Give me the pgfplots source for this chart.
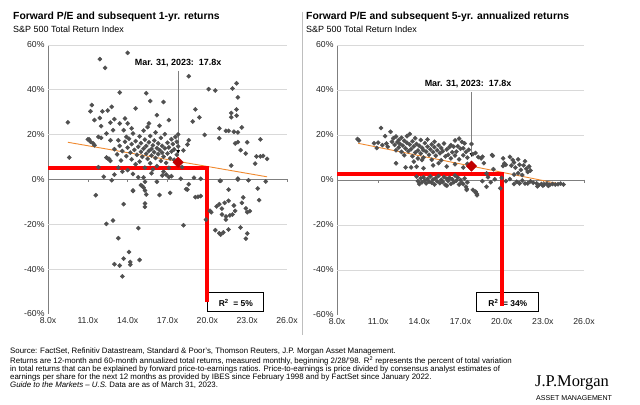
\documentclass[border=0pt]{standalone}
\usepackage{fontspec}
\setmainfont{Liberation Sans}
\newfontfamily\serifjp{Liberation Serif}
\usepackage{pgfplots}
\pgfplotsset{compat=1.18}
\usetikzlibrary{arrows.meta}
\definecolor{ptgray}{HTML}{505050}
\definecolor{gridgray}{HTML}{D9D9D9}
\definecolor{axgray}{HTML}{7F7F7F}
\definecolor{trend}{HTML}{F0892F}
\definecolor{curred}{HTML}{C00000}
\definecolor{rline}{HTML}{FF0000}
\pgfplotsset{jpm/.style={
  scale only axis, xmin=8, xmax=26, ymin=-60, ymax=60,
  axis y line=left, axis x line=bottom,
  x axis line style={draw=none},
  y axis line style={axgray, line width=0.8pt, -},
  xtick={8,11,...,26}, xticklabels={8.0x,11.0x,14.0x,17.0x,20.0x,23.0x,26.0x},
  ytick={-60,-40,...,60}, yticklabels={-60\%,-40\%,-20\%,0\%,20\%,40\%,60\%},
  major tick length=0pt,
  tick label style={font=\fontsize{8.7}{10}\selectfont, text=black!85},
  /pgf/number format/assume math mode=true,
  clip=false,
  pts/.style={only marks, mark=square*, mark size=1.5pt, mark options={rotate=45, fill=ptgray, draw=ptgray}},
}}
\newcommand{\gridzero}{%
  \draw[gridgray, line width=0.8pt] (axis cs:8,20) -- (axis cs:26,20);
  \draw[gridgray, line width=0.8pt] (axis cs:8,40) -- (axis cs:26,40);
  \draw[gridgray, line width=0.8pt] (axis cs:8,60) -- (axis cs:26,60);
  \draw[gridgray, line width=0.8pt] (axis cs:8,-20) -- (axis cs:26,-20);
  \draw[gridgray, line width=0.8pt] (axis cs:8,-40) -- (axis cs:26,-40);
  \draw[axgray, line width=0.8pt] (axis cs:8,0) -- (axis cs:26,0);
  \draw[axgray, line width=0.6pt] (axis cs:11,0) -- ++(0pt,-3pt);
  \draw[axgray, line width=0.6pt] (axis cs:14,0) -- ++(0pt,-3pt);
  \draw[axgray, line width=0.6pt] (axis cs:17,0) -- ++(0pt,-3pt);
  \draw[axgray, line width=0.6pt] (axis cs:20,0) -- ++(0pt,-3pt);
  \draw[axgray, line width=0.6pt] (axis cs:23,0) -- ++(0pt,-3pt);
  \draw[axgray, line width=0.6pt] (axis cs:26,0) -- ++(0pt,-3pt);
}
\begin{document}
\begin{tikzpicture}
\path[use as bounding box, fill=white] (0bp,0bp) rectangle (640bp,405bp);
% titles
\node[anchor=base west, inner sep=0, font=\bfseries\fontsize{10.4}{12}\selectfont] at (13bp,385bp) {Forward P/E and subsequent 1-yr. returns};
\node[anchor=base west, inner sep=0, font=\fontsize{9}{11}\selectfont] at (13bp,372bp) {S\&P 500 Total Return Index};
\node[anchor=base west, inner sep=0, font=\bfseries\fontsize{10.4}{12}\selectfont] at (306bp,385bp) {Forward P/E and subsequent 5-yr. annualized returns};
\node[anchor=base west, inner sep=0, font=\fontsize{9}{11}\selectfont] at (306bp,372bp) {S\&P 500 Total Return Index};
\draw[gridgray!70!gray, line width=0.8pt] (302bp,393bp) -- (302bp,70bp);

% ---------------- left
\begin{axis}[jpm, at={(48bp,91bp)}, anchor=south west, width=239bp, height=269bp]
\gridzero
\addplot[pts] coordinates {
(9.5,25.5) (9.6,9.8) (11.9,53.7) (12.3,49.8) (14.0,56.5) (13.4,38.8)
(11.2,30.4) (11.3,33.2) (11.5,26.5) (11.9,27.4) (12.1,30.4) (12.5,30.8) (12.8,32.4) (13.0,26.9) (12.7,25.4) (12.0,23.8)
(11.1,17.9) (11.4,16.1) (11.5,15.3) (11.8,19.0) (12.0,18.6) (12.4,20.5) (12.7,17.5) (12.9,22.0) (13.4,25.0) (13.8,27.2) (13.7,22.0) (14.3,22.8) (14.6,31.7) (14.0,25.0) (13.3,17.5) (13.9,19.0)
(15.4,38.5) (15.7,35.0) (16.7,34.6) (16.2,28.7) (17.1,26.5) (15.6,25.0)
(18.6,46.1) (20.1,40.3) (20.6,39.7) (21.9,40.6) (22.2,42.9) (22.3,36.6) (19.1,31.3) (19.4,27.7) (18.9,25.9) (21.8,29.7) (22.2,31.2) (21.8,27.8) (22.2,28.5) (22.6,23.2) (20.9,22.8) (21.4,21.7) (21.6,21.7) (22.0,21.3) (22.3,21.0) (20.9,18.4) (19.8,19.9) (18.6,17.5) (22.1,16.1) (22.3,16.7) (23.0,16.6) (22.5,13.1) (22.9,11.6) (24.0,17.9) (23.6,7.1) (23.7,10.3) (24.0,10.3) (24.2,10.5) (24.5,9.2) (21.8,6.2) (24.4,-0.9) (22.3,0.0) (21.0,-0.6)
(13.0,13.5) (13.2,11.2) (13.4,15.0) (13.5,8.5) (13.6,12.7) (13.8,16.8) (13.9,10.4) (14.0,14.2) (14.1,18.2) (14.2,12.0) (14.3,9.0) (14.3,15.8) (14.4,20.5) (14.5,13.2) (14.6,6.8) (14.6,17.1) (14.7,11.0) (14.8,14.6) (14.9,19.2) (14.9,8.0) (15.0,12.4) (15.0,16.2) (15.1,10.1) (15.2,13.8) (15.2,21.8) (15.3,5.3) (15.3,17.8) (15.4,11.5) (15.4,14.9) (15.5,9.2) (15.5,23.4) (15.6,12.8) (15.6,16.6) (15.7,7.2) (15.7,19.4) (15.8,13.6) (15.8,10.7) (15.9,15.2) (15.9,4.5) (16.0,12.2) (16.0,17.4) (16.1,9.6) (16.1,21.0) (16.2,14.0) (16.2,6.0) (16.3,11.3) (16.3,16.1) (16.4,13.1) (16.4,24.0) (16.5,8.3) (16.5,18.6) (16.6,12.0) (16.6,15.0) (16.7,10.2) (16.7,3.5) (16.8,13.9) (16.8,20.2) (16.9,7.4) (17.0,11.6) (17.0,16.4) (17.1,14.3) (17.1,5.2) (17.2,9.4) (17.3,18.0) (17.3,12.5) (17.4,15.8) (17.5,8.8) (17.5,13.4) (17.6,19.0) (17.7,11.0) (17.7,16.8) (17.8,14.8) (17.8,20.1)
(12.2,1.2) (12.8,-0.3) (13.0,2.2) (13.3,5.3) (13.6,3.5) (14.0,4.2) (14.4,2.5) (14.8,1.0) (15.2,0.9) (15.3,-1.0) (15.8,2.8) (16.2,-1.0) (16.6,1.8) (16.9,2.2) (17.1,1.1) (17.3,1.5) (18.0,0.3) (19.5,0.3) (11.8,5.5) (12.5,9.4) (12.4,9.8) (12.6,9.2) (12.7,8.3) (11.2,16.8) (11.0,17.9) (18.2,13.0) (18.5,15.6) (18.1,5.5) (19.0,0.8)
(11.6,-7.0) (12.4,-19.8) (12.9,-18.3) (13.3,-26.2) (13.0,-37.8) (13.4,-38.4) (13.7,-35.3) (13.6,-43.2) (14.1,-32.3) (14.2,-36.8) (14.2,-38.0) (14.9,-35.9) (14.8,-21.7) (13.7,-11.0) (14.4,-4.9) (15.0,-2.5) (15.1,-2.9) (15.3,-4.9) (15.4,-6.7) (15.3,-12.2) (15.3,-10.7) (16.4,-6.9) (17.2,-6.0) (18.2,-20.4) (18.4,-4.3) (18.6,-2.1) (19.1,-7.9) (19.3,-7.7) (19.5,-7.4) (20.2,-14.0) (20.3,-14.6) (19.9,-17.9) (20.6,-22.6) (20.9,-24.0) (21.2,-23.6) (21.0,-24.6) (21.6,-22.3) (20.9,-11.0) (21.1,-13.0) (21.1,-15.6) (21.3,-10.4) (21.6,-9.5) (21.6,-4.5) (21.4,-17.9) (21.7,-16.0) (21.9,-15.6) (22.0,-11.6) (22.1,-14.0) (22.5,-21.4) (22.7,-8.0) (22.6,-10.4) (22.9,-12.9) (23.0,-14.6) (23.2,-14.1) (23.0,-24.1) (22.9,-26.4) (23.8,-4.0) (23.9,-9.2) (14.4,-5.1) (18.5,-4.5) (15.2,-3.6) (20.95,-0.6) (22.3,0.4) (23.1,-0.3) (20.7,-12.0) (21.4,-16.5)
};
\addplot[trend, line width=0.9pt] coordinates {(9.5,16.6) (24.5,1.2)};
\draw[black, line width=0.8pt, fill=white] (axis cs:20,-50.3) rectangle (axis cs:24.2,-58.8);
\node[font=\bfseries\fontsize{8.5}{10}\selectfont] at (axis cs:22.15,-54.9) {R\textsuperscript{2}\ \ = 5\%};
\addplot[rline, line width=4bp, line join=miter] coordinates {(8,5) (20,5) (20,-54.6)};
\addplot[only marks, mark=square*, mark size=3.7pt, mark options={rotate=45, fill=curred, draw=curred}] coordinates {(17.8,7.7)};
\draw[axgray, line width=0.6pt, -{Latex[black,length=4pt,width=4pt]}] (axis cs:17.8,48.5) -- (axis cs:17.8,11.3);
\node[font=\bfseries\fontsize{9}{10}\selectfont] at (axis cs:17.8,51.8) {Mar. 31, 2023:\ \ 17.8x};
\end{axis}

% ---------------- right
\begin{axis}[jpm, at={(337bp,90bp)}, anchor=south west, width=247bp, height=270bp]
\gridzero
\addplot[pts] coordinates {
(9.5,18.2) (9.6,17.6) (10.7,16.3) (10.9,14.2) (11.0,16.6) (11.2,23.1) (11.3,15.5) (11.5,19.5) (11.6,16.2) (11.7,14.8) (11.9,21.4) (12.0,17.0) (12.1,18.5) (12.2,15.6) (12.3,19.3) (12.3,13.2) (12.4,16.8) (12.5,17.8) (12.5,14.4) (12.6,16.0) (12.7,12.5) (12.7,18.8) (12.8,15.3) (12.9,17.4) (12.9,11.0) (13.0,14.0) (13.1,19.5) (13.1,16.5) (13.2,12.8) (13.3,15.8) (13.3,20.4) (13.4,13.7) (13.5,17.2) (13.5,10.6) (13.6,14.9) (13.7,18.6) (13.7,12.2) (13.8,16.0) (13.9,13.1) (13.9,9.6) (14.0,15.2) (14.1,11.8) (14.1,17.8) (14.2,14.3) (14.3,13.3) (14.3,10.0) (14.4,16.4) (14.5,12.6) (14.6,14.8) (14.6,18.0) (14.7,11.2) (14.8,13.6) (14.9,15.8) (14.9,9.0) (15.0,12.4) (15.1,14.6) (15.1,17.0) (15.2,10.8) (15.3,13.2) (15.4,15.5) (15.5,11.9) (15.6,14.2) (15.6,8.8) (15.7,12.8) (15.8,16.2) (15.9,10.5) (16.0,13.6) (16.1,11.2) (16.2,14.7) (16.3,15.5) (16.3,9.6) (16.4,12.3) (16.5,14.8) (16.6,17.6) (16.6,10.9) (16.7,12.6) (16.8,15.0) (16.9,18.4) (16.9,9.2) (17.0,13.9) (17.1,16.9) (17.2,14.1) (17.2,11.0) (17.3,16.3) (17.4,12.5) (17.5,9.9) (17.6,13.4) (17.8,16.0) (17.9,11.5) (18.1,12.0) (18.3,10.2) (18.5,9.6) (18.6,10.3) (19.3,11.1) (19.35,10.8)
(12.3,7.4) (13.0,5.6) (13.4,5.6) (13.6,8.2) (13.8,5.9) (14.2,8.9) (14.3,5.2) (15.0,6.5) (15.4,7.5) (16.0,6.0) (16.6,7.0) (17.2,5.6) (17.5,7.2)
(13.8,1.5) (13.9,-0.5) (14.0,-1.8) (14.1,0.8) (14.2,-1.0) (14.3,1.2) (14.4,-0.2) (14.5,-1.5) (14.6,0.5) (14.7,-0.8) (14.8,1.6) (14.9,-1.2) (15.0,0.2) (15.1,-2.0) (15.2,0.9) (15.3,-0.6) (15.4,1.8) (15.5,-1.4) (15.6,0.1) (15.7,-0.9) (15.8,1.3) (15.9,-2.2) (16.0,-2.5) (16.0,0.6) (16.1,-0.4) (16.2,1.0) (16.3,-1.7) (16.4,0.3) (16.5,-1.0) (16.6,2.0) (16.7,-0.3) (16.8,1.1) (16.9,-2.0) (17.0,0.0) (17.1,-1.3) (17.2,-1.8) (17.3,0.7) (17.4,-3.0) (17.45,-4.0) (17.45,-4.4) (17.5,-1.0) (18.1,-5.6) (18.2,-6.8) (18.2,-6.2) (18.1,-5.2) (17.9,-4.4) (18.9,-3.0) (19.5,0.3) (19.9,-3.7) (18.6,-0.5) (19.0,1.2) (19.2,-1.0)
(20.1,9.6) (20.1,6.2) (20.2,7.4) (20.3,6.8) (20.8,8.9) (20.7,6.4) (20.6,10.3) (20.9,7.8) (21.0,5.5) (21.2,9.2) (21.3,6.8) (21.4,4.5) (21.6,6.5) (21.7,8.3) (21.8,5.0) (21.9,3.6) (22.0,6.0) (22.1,4.2) (20.9,2.4) (21.2,3.0) (21.5,2.2) (20.0,0.9) (20.3,-0.5) (20.6,0.4) (20.9,-1.8) (21.1,-0.8) (21.3,-1.5) (21.5,-0.2) (21.7,-1.6) (21.9,-1.5) (22.1,-0.6) (22.3,-1.2) (22.55,-1.5) (22.7,-2.2) (22.9,-1.8) (23.1,-2.0) (23.3,-1.6) (23.5,-2.1) (23.7,-1.8) (23.9,-2.0) (24.1,-1.9) (24.3,-1.6) (24.5,-2.0) (22.6,-2.8) (23.0,-2.5) (23.4,-2.6) (18.7,7.5) (19.4,4.8) (18.9,2.9)
};
\addplot[trend, line width=0.9pt] coordinates {(9.55,16.3) (24.6,-2.2)};
\draw[black, line width=0.8pt, fill=white] (axis cs:18.17,-50) rectangle (axis cs:22.7,-58.3);
\node[font=\bfseries\fontsize{8.5}{10}\selectfont] at (axis cs:20.45,-54.5) {R\textsuperscript{2}\ \ = 34\%};
\addplot[rline, line width=4bp, line join=miter] coordinates {(8,2.5) (20,2.5) (20,-56)};
\addplot[only marks, mark=square*, mark size=3.7pt, mark options={rotate=45, fill=curred, draw=curred}] coordinates {(17.8,6.2)};
\draw[axgray, line width=0.6pt, -{Latex[black,length=4pt,width=4pt]}] (axis cs:17.8,39.2) -- (axis cs:17.8,10.2);
\node[font=\bfseries\fontsize{9}{10}\selectfont] at (axis cs:17.55,42.5) {Mar. 31, 2023:\ \ 17.8x};
\end{axis}

% footnote
\node[anchor=north west, inner sep=0, align=left, font=\fontsize{7.9}{8}\selectfont] at (10bp,57bp) {Source: FactSet, Refinitiv Datastream, Standard \& Poor's, Thomson Reuters, J.P. Morgan Asset Management.\\
Returns are 12-month and 60-month annualized total returns, measured monthly, beginning 2/28/'98. R\textsuperscript{2} represents the percent of total variation\\
in total returns that can be explained by forward price-to-earnings ratios. Price-to-earnings is price divided by consensus analyst estimates of\\
earnings per share for the next 12 months as provided by IBES since February 1998 and by FactSet since January 2022.\\
\textit{Guide to the Markets -- U.S.} Data are as of March 31, 2023.};
\node[anchor=base west, inner sep=0, font=\serifjp\fontsize{16.5}{18}\selectfont] at (535bp,19bp) {J.P.Morgan};
\node[anchor=base west, inner sep=0, font=\fontsize{7.1}{8}\selectfont] at (536bp,4.5bp) {ASSET MANAGEMENT};
\end{tikzpicture}
\end{document}
